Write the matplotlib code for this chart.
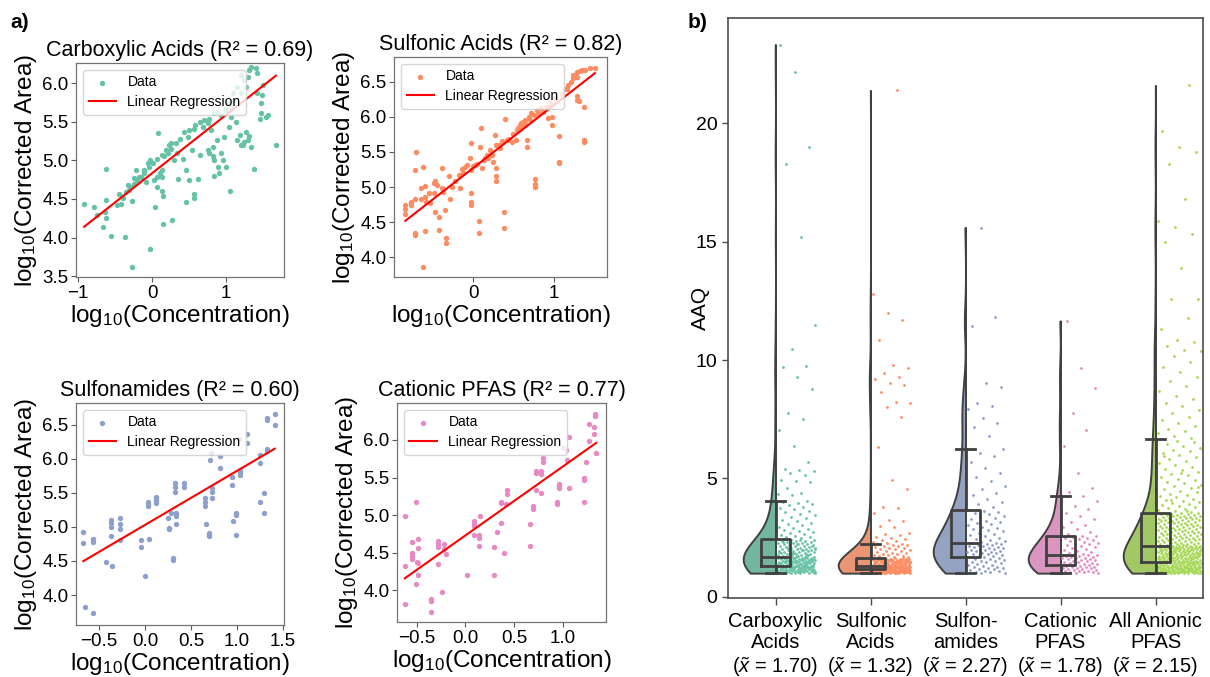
import numpy as np
import matplotlib
matplotlib.use("Agg")
import matplotlib.pyplot as plt
from matplotlib.ticker import MultipleLocator, FuncFormatter
import colorsys
from matplotlib.colors import to_rgb

plt.rcParams['font.family'] = ['Liberation Sans', 'DejaVu Sans']
plt.rcParams['mathtext.fontset'] = 'custom'
plt.rcParams['mathtext.rm'] = 'Liberation Sans'
plt.rcParams['mathtext.it'] = 'Liberation Sans:italic'
plt.rcParams['mathtext.bf'] = 'Liberation Sans:bold'

# ---------------- data: panel a (log10 concentration vs log10 corrected area) -------------
CARB_X = [-0.92,-0.79,-0.75,-0.67,-0.63,-0.64,-0.63,-0.63,-0.56,-0.45,
          -0.48,-0.42,-0.37,-0.39,-0.33,-0.31,-0.27,-0.27,-0.25,-0.22,
          -0.20,-0.15,-0.11,-0.09,-0.06,-0.03,-0.03,0.04,0.08,0.10,
          0.07,0.13,0.15,0.15,0.13,0.16,0.18,0.23,0.27,0.25,
          0.29,0.35,0.33,0.41,0.45,0.46,0.49,0.54,0.57,0.62,
          0.64,0.48,0.56,0.68,0.75,0.75,0.79,0.82,0.84,0.87,
          0.89,0.93,0.95,0.99,0.97,1.05,1.04,1.07,1.13,1.15,
          1.18,1.22,1.27,1.29,1.37,1.46,1.47,1.57,1.67,1.42,
          1.48,1.49,1.41,1.40,1.31,1.24,1.20,1.15,1.09,1.03,
          0.98,0.93,0.84,0.77,0.70,0.65,0.58,0.50,0.43,0.38,
          0.32,0.26,0.21,0.13,0.06,0.01,-0.05,-0.11,-0.18,-0.24,
          -0.30,-0.36,-0.41,1.11,1.06,1.20,1.27,1.29,1.33,0.99,
          0.88,1.54,1.47,1.33,1.24,1.20,1.31,0.90,0.84,0.57,
          0.77,0.82,0.07,0.13,0.03]
CARB_Y = [4.44,4.39,4.29,4.14,4.25,4.33,4.49,4.89,4.02,4.57,
          4.42,4.44,4.01,4.51,4.68,4.61,4.47,3.62,4.77,4.87,
          4.74,4.79,4.87,4.72,4.96,5.00,3.85,4.39,5.35,4.83,
          4.66,4.78,4.54,4.18,4.60,5.05,5.13,5.20,4.23,5.22,
          5.00,4.76,5.09,5.02,4.87,4.46,4.74,5.13,4.51,4.76,
          5.07,5.30,5.41,5.43,5.13,5.48,5.39,5.17,5.00,5.26,
          4.92,5.09,5.00,4.92,5.30,4.60,5.43,5.56,5.50,5.26,
          5.33,5.20,5.37,5.26,4.89,5.54,5.61,5.59,5.20,5.87,
          5.84,5.97,6.13,6.19,6.17,6.04,6.10,5.95,5.87,5.74,
          5.65,5.59,5.61,5.54,5.52,5.50,5.46,5.39,5.37,5.28,
          5.22,5.15,5.09,5.07,5.02,4.96,4.92,4.83,4.79,4.70,
          4.66,4.59,4.53,5.78,5.69,5.87,5.95,6.08,6.21,5.67,
          5.63,5.56,5.74,5.17,5.24,5.20,5.31,4.84,4.80,4.57,
          5.10,5.05,4.79,4.87,4.74]

SULF_X = [-0.84,-0.84,-0.84,-0.77,-0.77,-0.72,-0.71,-0.72,-0.72,-0.72,
          -0.64,-0.62,-0.65,-0.60,-0.60,-0.60,-0.62,-0.58,-0.55,-0.53,
          -0.49,-0.47,-0.45,-0.48,-0.47,-0.42,-0.42,-0.39,-0.39,-0.37,
          -0.35,-0.33,-0.33,-0.30,-0.28,-0.26,-0.22,-0.18,-0.16,-0.14,
          -0.10,-0.07,-0.04,-0.02,-0.02,-0.02,-0.02,-0.02,0.02,0.07,
          0.07,0.10,0.09,0.11,0.14,0.17,0.19,0.21,0.23,0.25,
          0.27,0.28,0.28,0.28,0.28,0.32,0.36,0.38,0.38,0.40,
          0.42,0.45,0.48,0.53,0.56,0.58,0.60,0.62,0.64,0.67,
          0.67,0.69,0.72,0.75,0.77,0.77,0.77,0.79,0.81,0.84,
          0.87,0.90,0.93,0.98,0.98,0.95,1.02,1.07,1.07,1.07,
          1.10,1.14,1.18,1.24,1.24,1.29,1.29,1.29,1.29,1.31,
          1.33,1.37,1.37,1.37,1.39,1.45,1.51,1.35,1.22,1.16,
          0.50,0.54,0.60,0.64,-0.12,0.00,0.05,0.15,0.34,0.71]
SULF_Y = [4.74,4.69,4.62,4.79,4.74,4.83,5.50,5.24,4.34,4.32,
          4.83,5.29,4.99,5.01,4.86,4.38,3.86,4.79,4.91,4.77,
          5.06,5.08,5.03,4.92,4.65,4.58,4.39,5.27,4.98,4.93,
          4.67,4.27,4.20,5.16,4.83,5.00,5.08,5.17,4.98,5.26,
          5.29,5.31,5.41,5.62,4.92,4.79,4.74,5.24,5.31,4.52,
          4.34,5.84,5.57,5.27,5.38,5.46,5.41,5.53,5.46,5.36,
          5.74,5.60,5.27,5.15,5.08,5.60,5.65,4.65,4.42,5.97,
          5.67,5.69,5.64,5.67,5.84,5.88,5.91,5.93,5.95,5.67,
          5.57,6.00,6.05,6.02,5.12,5.05,5.00,6.10,6.05,6.12,
          6.07,6.14,5.98,5.99,5.88,6.19,6.26,5.73,5.36,5.34,
          6.33,6.40,6.45,6.59,6.55,6.64,6.57,6.29,6.24,6.22,
          6.65,6.14,5.67,5.64,6.67,6.69,6.70,6.66,6.50,6.40,
          5.76,5.81,5.86,5.90,5.20,5.30,5.33,5.42,5.55,5.96]

SAM_X = [-0.67,-0.67,-0.65,-0.57,-0.57,-0.57,-0.42,-0.36,-0.37,-0.37,
         -0.37,-0.37,-0.27,-0.27,-0.27,-0.27,-0.04,-0.04,0.00,0.04,
         0.03,0.03,0.03,0.12,0.12,0.12,0.25,0.26,0.26,0.28,
         0.30,0.30,0.33,0.33,0.33,0.34,0.34,0.34,0.42,0.42,
         0.65,0.65,0.65,0.66,0.69,0.69,0.69,0.71,0.72,0.73,
         0.73,0.73,0.81,0.81,0.95,0.95,0.96,0.99,0.99,0.99,
         1.02,1.03,1.03,1.03,1.11,1.11,1.25,1.25,1.25,1.29,
         1.29,1.32,1.32,1.33,1.33,1.41,1.41]
SAM_Y = [4.92,4.77,3.83,4.82,4.78,3.74,4.48,4.43,5.10,5.06,
         5.00,4.87,5.13,5.05,4.97,4.81,4.81,4.70,4.28,4.82,
         5.37,5.34,5.31,5.44,5.40,5.35,5.13,4.97,4.98,5.20,
         4.55,4.51,5.64,5.58,5.52,5.20,5.16,5.05,5.64,5.58,
         5.42,5.37,5.31,5.05,4.91,4.88,4.86,5.99,6.08,5.57,
         5.52,5.42,6.04,5.86,5.73,5.62,5.09,5.20,5.18,4.88,
         6.29,5.84,5.80,5.76,6.37,6.23,6.06,5.94,5.37,5.50,
         5.21,6.60,6.57,6.14,6.11,6.66,6.50]

CAT_X = [-0.62,-0.62,-0.62,-0.55,-0.55,-0.55,-0.55,-0.51,-0.50,-0.49,
         -0.49,-0.49,-0.49,-0.51,-0.28,-0.28,-0.28,-0.28,-0.35,-0.35,
         -0.35,-0.24,-0.22,-0.22,-0.20,0.02,0.09,0.09,0.09,0.09,
         0.15,0.14,0.14,0.14,0.29,0.29,0.32,0.36,0.36,0.36,
         0.40,0.42,0.43,0.43,0.66,0.66,0.69,0.69,0.72,0.72,
         0.72,0.77,0.77,0.77,0.79,0.79,0.94,0.94,0.96,0.96,
         0.96,1.00,1.03,1.04,1.06,1.06,1.21,1.21,1.21,1.24,
         1.27,1.27,1.32,1.32,1.34,1.33,1.33]
CAT_Y = [4.99,4.32,3.82,4.64,4.50,4.46,4.42,5.17,4.38,4.68,
         4.56,4.36,4.20,4.09,4.66,4.62,4.58,4.35,3.88,3.86,
         3.71,3.98,4.61,4.55,4.49,4.21,4.92,4.88,4.86,4.74,
         4.99,4.74,4.69,4.59,4.21,4.58,4.78,4.89,5.18,5.16,
         4.50,5.15,5.34,5.28,4.88,4.59,5.12,5.08,5.58,5.56,
         5.33,5.58,5.55,5.29,5.76,5.71,5.18,5.15,5.42,5.39,
         5.36,5.89,5.87,5.73,5.36,6.04,5.50,5.47,5.18,5.71,
         5.99,6.21,6.17,6.08,5.83,6.35,6.32]

REG_TITLES = ["Carboxylic Acids", "Sulfonic Acids", "Sulfonamides", "Cationic PFAS"]
R2 = [0.69, 0.82, 0.60, 0.77]
SLOPES = [0.755, 0.894, 0.794, 0.918]
INTERCEPTS = [4.835, 5.27, 5.03, 4.73]
XLIMS = [(-1.03, 1.78), (-0.98, 1.66), (-0.75, 1.51), (-0.70, 1.44)]
YLIMS = [(3.49, 6.26), (3.72, 6.85), (3.56, 6.82), (3.58, 6.49)]
X_STEPS = [1.0, 1.0, 0.5, 0.5]
X_DECIMALS = [0, 0, 1, 1]

# ---------------- data: panel b (AAQ distributions) -------------
CATEGORIES = ["Carboxylic\nAcids", "Sulfonic\nAcids", "Sulfon-\namides", "Cationic\nPFAS", "All Anionic\nPFAS"]
MEDIANS = [1.70, 1.32, 2.27, 1.78, 2.15]
Q1S = [1.31, 1.17, 1.70, 1.36, 1.48]
Q3S = [2.44, 1.63, 3.68, 2.58, 3.55]
WHIS_LO = [1.00, 1.00, 1.00, 1.00, 1.00]
WHIS_HI = [4.05, 2.22, 6.25, 4.25, 6.65]

AAQ_CARB = [1.00,1.00,1.01,1.01,1.02,1.02,1.03,1.04,1.04,1.05,1.06,1.06,1.07,1.08,1.08,1.09,1.10,1.10,1.11,1.12,
            1.12,1.13,1.13,1.14,1.15,1.16,1.16,1.17,1.17,1.18,1.19,1.19,1.20,1.21,1.21,1.22,1.23,1.23,1.24,1.24,
            1.25,1.25,1.26,1.26,1.27,1.27,1.28,1.28,1.29,1.29,1.29,1.30,1.30,1.30,1.31,1.31,1.03,1.09,1.14,1.20,
            1.32,1.32,1.33,1.34,1.35,1.35,1.36,1.37,1.38,1.38,1.39,1.40,1.41,1.41,1.42,1.43,1.44,1.44,1.45,1.46,
            1.47,1.47,1.48,1.49,1.50,1.50,1.51,1.52,1.53,1.53,1.54,1.55,1.56,1.56,1.57,1.58,1.59,1.59,1.60,1.61,
            1.62,1.62,1.63,1.64,1.65,1.65,1.66,1.67,1.68,1.69,1.70,1.70,1.37,1.46,1.55,1.63,1.43,1.58,1.67,1.52,
            1.72,1.73,1.74,1.76,1.77,1.78,1.80,1.81,1.82,1.84,1.85,1.86,1.88,1.89,1.91,1.92,1.93,1.95,1.96,1.98,
            1.99,2.01,2.02,2.04,2.05,2.07,2.08,2.10,2.11,2.13,2.14,2.16,2.18,2.19,2.21,2.22,2.24,2.26,2.27,2.29,
            2.30,2.32,2.34,2.35,2.37,2.39,2.40,2.42,2.44,1.75,1.83,1.90,1.97,2.06,2.15,2.25,2.33,1.79,1.87,2.00,
            2.47,2.51,2.54,2.58,2.61,2.65,2.70,2.73,2.78,2.82,2.87,2.92,2.96,3.02,3.08,3.13,3.19,3.26,3.31,3.38,
            3.45,3.51,3.57,3.63,3.69,3.74,3.81,3.87,3.92,3.96,4.01,4.05,
            4.30,4.35,4.40,4.60,4.85,4.90,4.94,5.15,5.25,5.30,5.35,5.40,5.70,6.37,7.05,7.50,7.76,8.78,9.30,9.70,
            9.75,10.45,11.48,15.19,18.27,19.00,22.19,23.33]
AAQ_SULF = [1.00,1.00,1.00,1.01,1.01,1.01,1.02,1.02,1.02,1.03,1.03,1.04,1.04,1.04,1.05,1.05,1.06,1.06,1.06,1.07,
            1.07,1.08,1.08,1.08,1.09,1.09,1.10,1.10,1.10,1.11,1.11,1.11,1.12,1.12,1.12,1.13,1.13,1.13,1.14,1.14,
            1.14,1.15,1.15,1.15,1.16,1.16,1.16,1.17,1.17,1.01,1.03,1.05,1.07,1.09,1.11,1.13,1.15,1.02,1.06,1.10,
            1.14,1.16,
            1.18,1.18,1.18,1.19,1.19,1.19,1.20,1.20,1.20,1.21,1.21,1.21,1.22,1.22,1.22,1.23,1.23,1.23,1.24,1.24,
            1.24,1.25,1.25,1.25,1.26,1.26,1.26,1.27,1.27,1.27,1.28,1.28,1.28,1.29,1.29,1.29,1.30,1.30,1.30,1.31,
            1.31,1.31,1.32,1.32,1.19,1.21,1.23,1.25,1.27,1.29,1.31,1.20,1.22,1.24,1.26,1.28,1.30,1.18,1.22,1.26,
            1.29,1.32,
            1.33,1.34,1.34,1.35,1.36,1.36,1.37,1.38,1.38,1.39,1.40,1.40,1.41,1.42,1.42,1.43,1.44,1.44,1.45,1.46,
            1.46,1.47,1.48,1.48,1.49,1.50,1.50,1.51,1.52,1.52,1.53,1.54,1.54,1.55,1.56,1.56,1.57,1.58,1.58,1.59,
            1.60,1.60,1.61,1.62,1.62,1.63,1.35,1.39,1.43,1.47,1.51,1.55,1.59,1.37,1.41,1.45,1.49,1.53,1.57,1.61,
            1.46,1.52,
            1.65,1.67,1.69,1.71,1.73,1.75,1.78,1.80,1.82,1.85,1.87,1.90,1.92,1.95,1.98,2.00,2.03,2.06,2.08,2.11,
            2.13,2.15,2.17,2.19,2.21,2.22,
            2.28,2.31,2.35,2.40,2.45,2.50,2.53,2.60,2.65,2.70,2.95,3.00,3.20,3.25,3.54,3.76,3.80,4.56,4.94,6.33,
            7.60,8.02,8.19,8.23,8.65,8.95,9.03,9.20,9.30,9.45,9.66,9.79,10.84,11.68,11.98,12.78,21.39]
AAQ_SAM = [1.00,1.02,1.04,1.06,1.09,1.11,1.13,1.16,1.18,1.21,1.23,1.26,1.28,1.31,1.34,1.36,1.39,1.42,1.45,1.47,
           1.50,1.53,1.56,1.59,1.61,1.64,1.67,1.70,
           1.72,1.74,1.76,1.79,1.81,1.83,1.86,1.88,1.90,1.92,1.95,1.97,1.99,2.01,2.03,2.06,2.08,2.10,2.12,2.14,
           2.16,2.18,2.20,2.22,2.24,2.26,2.27,
           2.30,2.35,2.40,2.45,2.50,2.55,2.60,2.66,2.71,2.76,2.81,2.86,2.92,2.97,3.02,3.07,3.12,3.17,3.22,3.28,
           3.33,3.38,3.43,3.48,3.53,3.58,3.63,3.68,
           3.78,3.90,4.02,4.15,4.28,4.40,4.55,4.70,4.88,5.05,5.22,5.45,5.70,5.95,6.07,6.25,
           6.80,7.17,7.33,7.55,7.93,8.05,8.19,8.87,9.03,11.45,11.83,15.60]
AAQ_CAT = [1.00,1.01,1.03,1.05,1.06,1.08,1.10,1.11,1.13,1.15,1.16,1.18,1.20,1.21,1.23,1.25,1.26,1.28,1.30,1.31,
           1.33,1.36,
           1.38,1.40,1.42,1.44,1.46,1.48,1.50,1.52,1.54,1.56,1.58,1.60,1.62,1.64,1.66,1.68,1.70,1.72,1.74,1.76,
           1.77,1.78,
           1.82,1.86,1.90,1.94,1.98,2.02,2.05,2.09,2.13,2.17,2.21,2.24,2.28,2.32,2.36,2.40,2.43,2.47,2.50,2.53,
           2.56,2.58,
           2.65,2.75,2.85,2.95,3.05,3.15,3.28,3.40,3.55,3.70,3.85,4.05,4.25,
           4.43,4.60,5.23,6.37,7.05,7.76,8.82,9.66,11.65]
AAQ_ALL = [1.00,1.00,1.00,1.00,1.01,1.01,1.01,1.02,1.02,1.02,1.03,1.03,1.04,1.04,1.04,1.05,1.05,1.06,1.06,1.07,
           1.07,1.07,1.08,1.08,1.09,1.09,1.10,1.10,1.11,1.11,1.12,1.12,1.12,1.13,1.13,1.14,1.14,1.15,1.15,1.16,
           1.16,1.17,1.17,1.18,1.18,1.19,1.19,1.20,1.20,1.21,1.21,1.22,1.22,1.23,1.23,1.24,1.24,1.25,1.25,1.26,
           1.26,1.27,1.27,1.28,1.28,1.29,1.29,1.30,1.31,1.31,1.32,1.32,1.33,1.34,1.34,1.35,1.35,1.36,1.37,1.37,
           1.38,1.39,1.39,1.40,1.41,1.41,1.42,1.43,1.43,1.44,1.44,1.45,1.45,1.46,1.46,1.47,1.47,1.48,1.48,1.48,
           1.49,1.49,1.50,1.51,1.51,1.52,1.53,1.53,1.54,1.55,1.55,1.56,1.57,1.57,1.58,1.59,1.59,1.60,1.61,1.62,
           1.62,1.63,1.64,1.64,1.65,1.66,1.66,1.67,1.68,1.68,1.69,1.70,1.71,1.71,1.72,1.73,1.73,1.74,1.75,1.75,
           1.76,1.77,1.78,1.78,1.79,1.80,1.80,1.81,1.82,1.82,1.83,1.84,1.85,1.85,1.86,1.87,1.87,1.88,1.89,1.89,
           1.90,1.91,1.92,1.92,1.93,1.94,1.94,1.95,1.96,1.97,1.97,1.98,1.99,1.99,2.00,2.01,2.02,2.02,2.03,2.04,
           2.04,2.05,2.06,2.07,2.07,2.08,2.09,2.09,2.10,2.11,2.11,2.12,2.12,2.13,2.13,2.14,2.14,2.15,2.15,2.15,
           2.16,2.18,2.19,2.21,2.22,2.24,2.25,2.26,2.28,2.29,2.31,2.32,2.33,2.35,2.36,2.38,2.39,2.40,2.42,2.43,
           2.45,2.46,2.47,2.49,2.50,2.52,2.53,2.54,2.56,2.57,2.59,2.60,2.61,2.63,2.64,2.66,2.67,2.68,2.70,2.71,
           2.73,2.74,2.75,2.77,2.78,2.80,2.81,2.82,2.84,2.85,2.87,2.88,2.89,2.91,2.92,2.94,2.95,2.96,2.98,2.99,
           3.01,3.02,3.03,3.05,3.06,3.08,3.09,3.10,3.12,3.13,3.15,3.16,3.17,3.19,3.20,3.22,3.23,3.24,3.26,3.27,
           3.29,3.30,3.31,3.33,3.34,3.36,3.37,3.38,3.40,3.41,3.43,3.44,3.45,3.47,3.48,3.50,3.51,3.52,3.54,3.55,
           3.58,3.62,3.66,3.70,3.74,3.78,3.83,3.87,3.91,3.96,4.00,4.05,4.10,4.15,4.20,4.25,4.30,4.36,4.42,4.48,
           4.54,4.60,4.66,4.72,4.79,4.85,4.92,4.99,5.06,5.13,5.20,5.27,5.34,5.42,5.50,5.58,5.66,5.74,5.82,5.90,
           5.98,6.06,6.14,6.22,6.30,6.38,6.46,6.52,6.58,6.65,3.64,4.08,4.63,5.24,5.95,
           6.72,6.80,6.90,7.00,7.10,7.22,7.35,7.48,7.60,7.75,7.90,8.05,8.20,8.35,8.50,8.70,8.90,9.10,9.30,9.50,
           9.70,9.90,10.17,10.40,10.42,10.60,10.76,10.84,11.30,11.77,12.57,12.60,13.88,14.99,15.32,15.62,15.87,
           16.79,18.27,18.79,19.00,19.66,21.60]

# ---------------- styling -------------
SET2 = ['#66c2a5', '#fc8d62', '#8da0cb', '#e78ac3', '#a6d854']
EDGE = '#404040'
BW_ADJUST = 0.7


def desaturate(c, p=0.75):
    h, l, s = colorsys.rgb_to_hls(*to_rgb(c))
    return colorsys.hls_to_rgb(h, l, s * p)


def minus_formatter(decimals):
    return FuncFormatter(lambda v, p: f"{v:.{decimals}f}".replace('-', '\u2212'))


fig = plt.figure(figsize=(12.10, 6.77), dpi=100)
W, H = 1210.0, 677.0


def axes_px(x0, y0, x1, y1):
    return fig.add_axes([x0 / W, 1 - y1 / H, (x1 - x0) / W, (y1 - y0) / H])


reg_axes = [axes_px(76, 63, 284, 277), axes_px(394, 57, 607, 277),
            axes_px(76, 403, 284, 625), axes_px(397, 403, 606, 622)]
reg_data = [(CARB_X, CARB_Y), (SULF_X, SULF_Y), (SAM_X, SAM_Y), (CAT_X, CAT_Y)]

for k, ax in enumerate(reg_axes):
    x = np.asarray(reg_data[k][0])
    y = np.asarray(reg_data[k][1])
    ax.scatter(x, y, s=15, color=SET2[k], linewidths=0, label='Data', zorder=2)
    xs = np.array([x.min(), x.max()])
    ax.plot(xs, INTERCEPTS[k] + SLOPES[k] * xs, color='red', lw=1.5,
            label='Linear Regression', zorder=3)
    ax.set_xlim(*XLIMS[k])
    ax.set_ylim(*YLIMS[k])
    ax.xaxis.set_major_locator(MultipleLocator(X_STEPS[k]))
    ax.xaxis.set_major_formatter(minus_formatter(X_DECIMALS[k]))
    ax.yaxis.set_major_locator(MultipleLocator(0.5))
    ax.yaxis.set_major_formatter(minus_formatter(1))
    ax.set_title(f"{REG_TITLES[k]} (R² = {R2[k]:.2f})", fontsize=15.5, pad=5)
    ax.set_xlabel('log$_{10}$(Concentration)', fontsize=17.5, labelpad=1)
    ax.set_ylabel('log$_{10}$(Corrected Area)', fontsize=17.5, labelpad=2)
    ax.tick_params(labelsize=13.5, length=3.5, width=0.8, color='0.35', pad=2)
    for sp in ax.spines.values():
        sp.set_color('0.45')
        sp.set_linewidth(0.9)
    leg = ax.legend(loc='upper left', fontsize=10, handlelength=2.0,
                    borderpad=0.4, labelspacing=0.4, framealpha=0.8)
    leg.set_zorder(5)

# ---------------- panel b -------------
axb = axes_px(728, 18, 1203, 598)
groups = [AAQ_CARB, AAQ_SULF, AAQ_SAM, AAQ_CAT, AAQ_ALL]
positions = np.arange(len(groups))
jit_hi = [0.42, 0.42, 0.42, 0.40, 0.48]
GOLD = 0.6180339887

for i, vals in enumerate(groups):
    d = np.asarray(vals, dtype=float)
    n = d.size
    bw = BW_ADJUST * d.std(ddof=1) * n ** (-0.2)
    grid = np.linspace(d.min(), d.max(), 600)
    dens = np.exp(-0.5 * ((grid[:, None] - d[None, :]) / bw) ** 2).sum(axis=1)
    hw = dens / dens.max() * 0.34
    axb.fill_betweenx(grid, positions[i] - hw, positions[i],
                      facecolor=desaturate(SET2[i]), edgecolor=EDGE,
                      linewidth=1.4, zorder=1)
    idx = np.arange(n)
    frac = (idx * GOLD + 0.37) % 1.0
    xj = positions[i] + 0.02 + (jit_hi[i] - 0.02) * frac
    axb.scatter(xj, d, s=4, color=SET2[i], linewidths=0, zorder=2)

stats = []
for i in range(len(groups)):
    stats.append(dict(med=MEDIANS[i], q1=Q1S[i], q3=Q3S[i],
                      whislo=WHIS_LO[i], whishi=WHIS_HI[i], fliers=[]))
lp = dict(color=EDGE, linewidth=2.0)
axb.bxp(stats, positions=positions, widths=0.3, capwidths=0.2,
        showfliers=False, patch_artist=False,
        boxprops=lp, medianprops=lp, whiskerprops=lp, capprops=lp,
        manage_ticks=False, zorder=3)

axb.set_xlim(-0.5, 4.5)
axb.set_ylim(-0.05, 24.45)
axb.set_yticks([0, 5, 10, 15, 20])
axb.set_xticks(positions)
axb.set_xticklabels([f"{c}\n($\\tilde{{x}}$ = {m:.2f})" for c, m in zip(CATEGORIES, MEDIANS)],
                    fontsize=14.5, linespacing=1.17)
axb.tick_params(axis='y', labelsize=14, length=4, width=1.0, color='0.3')
axb.tick_params(axis='x', length=5, width=1.0, color='0.3', pad=5)
axb.set_ylabel('AAQ', fontsize=15)
axb.yaxis.set_label_coords(-0.038, 0.5)
for sp in axb.spines.values():
    sp.set_color('0.3')
    sp.set_linewidth(1.2)

fig.text(10 / W, 1 - 23 / H, 'a)', fontsize=15, fontweight='bold', va='center')
fig.text(688 / W, 1 - 23 / H, 'b)', fontsize=15, fontweight='bold', va='center')

fig.savefig('out.png', dpi=100)
